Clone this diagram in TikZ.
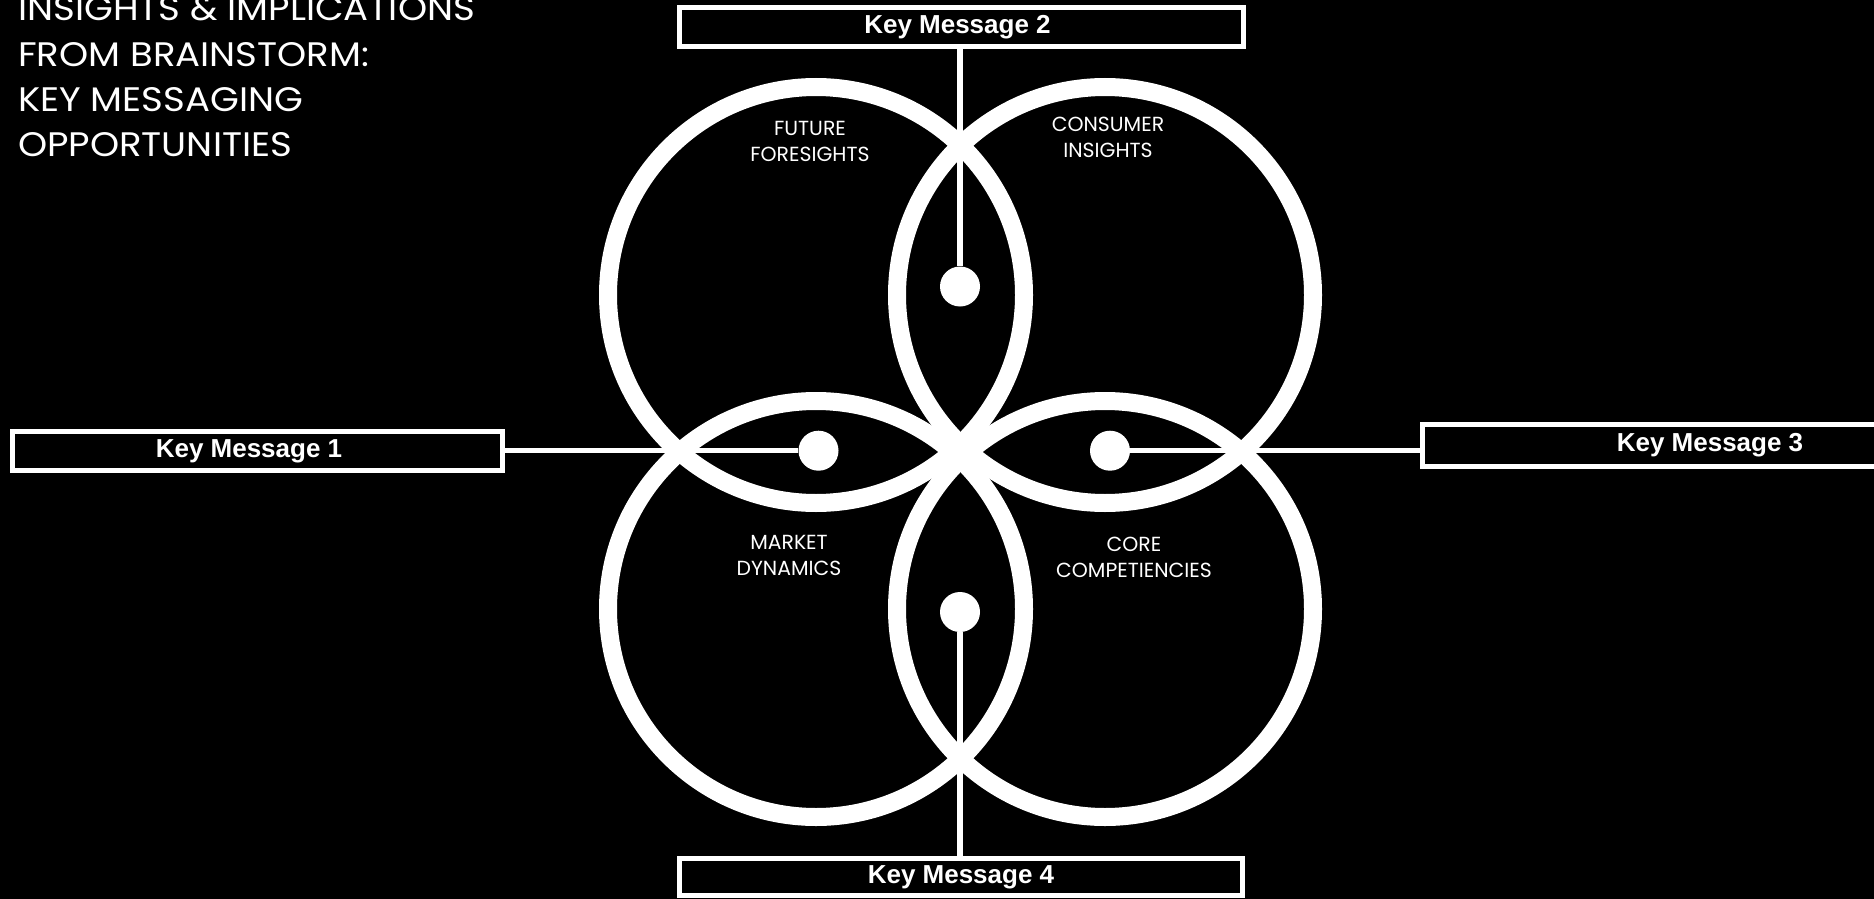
\documentclass[tikz,border=0pt]{standalone}
\usepackage{fontspec}
\setmainfont{Liberation Sans}
\newfontfamily\gothic{Poppins}
\newfontfamily\gothicwide{Poppins}[FakeStretch=1.09]
\begin{document}
\begin{tikzpicture}[x=1pt,y=-1pt,
  ring/.style={draw=white,line width=18pt},
  dotnode/.style={circle,fill=white,minimum size=40pt,inner sep=0pt},
  conn/.style={draw=white,line width=5.5pt},
  msgbox/.style={draw=white,line width=5pt,fill=black,inner sep=0pt,text=white,
    font=\fontsize{26}{31}\selectfont\bfseries},
  lbl/.style={text=white,align=center,inner sep=0pt,
    font=\gothic\fontsize{20.4}{26}\selectfont},
  titletext/.style={text=white,align=left,inner sep=0pt,
    font=\gothicwide\fontsize{34}{45.3}\selectfont}
]
\useasboundingbox (0,0) rectangle (1874,899);
\fill[black] (0,0) rectangle (1874,899);
\clip (0,0) rectangle (1874,899);

% title
\node[titletext,anchor=north west] (title) at (18,-3.5)
  {INSIGHTS \& IMPLICATIONS\\FROM BRAINSTORM:\\KEY MESSAGING\\OPPORTUNITIES};

% rings
\draw[ring] (816,295) circle[radius=208pt];
\draw[ring] (1105,295) circle[radius=208pt];
\draw[ring] (816,609) circle[radius=208pt];
\draw[ring] (1105,609) circle[radius=208pt];

% ring labels
\node[lbl] (ff) at (810,141) {FUTURE\\FORESIGHTS};
\node[lbl] (ci) at (1108,137) {CONSUMER\\INSIGHTS};
\node[lbl] (md) at (789,555.5) {MARKET\\DYNAMICS};
\node[lbl] (cc) at (1134,557) {CORE\\COMPETIENCIES};

% dots
\node[dotnode] (dtop) at (960,286.5) {};
\node[dotnode] (dleft) at (818.5,450.7) {};
\node[dotnode] (dright) at (1110,450.7) {};
\node[dotnode] (dbot) at (960,612) {};

% key message boxes
\node[msgbox,minimum width=564pt,minimum height=39pt] (km2) at (961.5,27) {\hspace*{-8pt}Key Message 2};
\node[msgbox,minimum width=490pt,minimum height=39pt] (km1) at (257.5,451) {\hspace*{-17pt}Key Message 1};
\node[msgbox,minimum width=575pt,minimum height=42pt] (km3) at (1710,445.5) {Key Message 3};
\node[msgbox,minimum width=563pt,minimum height=37pt] (km4) at (961,877) {Key Message 4};

% connectors
\draw[conn] (dtop |- km2.south) -- (dtop);
\draw[conn] (km1.east |- dleft) -- (dleft);
\draw[conn] (dright) -- (km3.west |- dright);
\draw[conn] (dbot) -- (dbot |- km4.north);
\end{tikzpicture}
\end{document}
